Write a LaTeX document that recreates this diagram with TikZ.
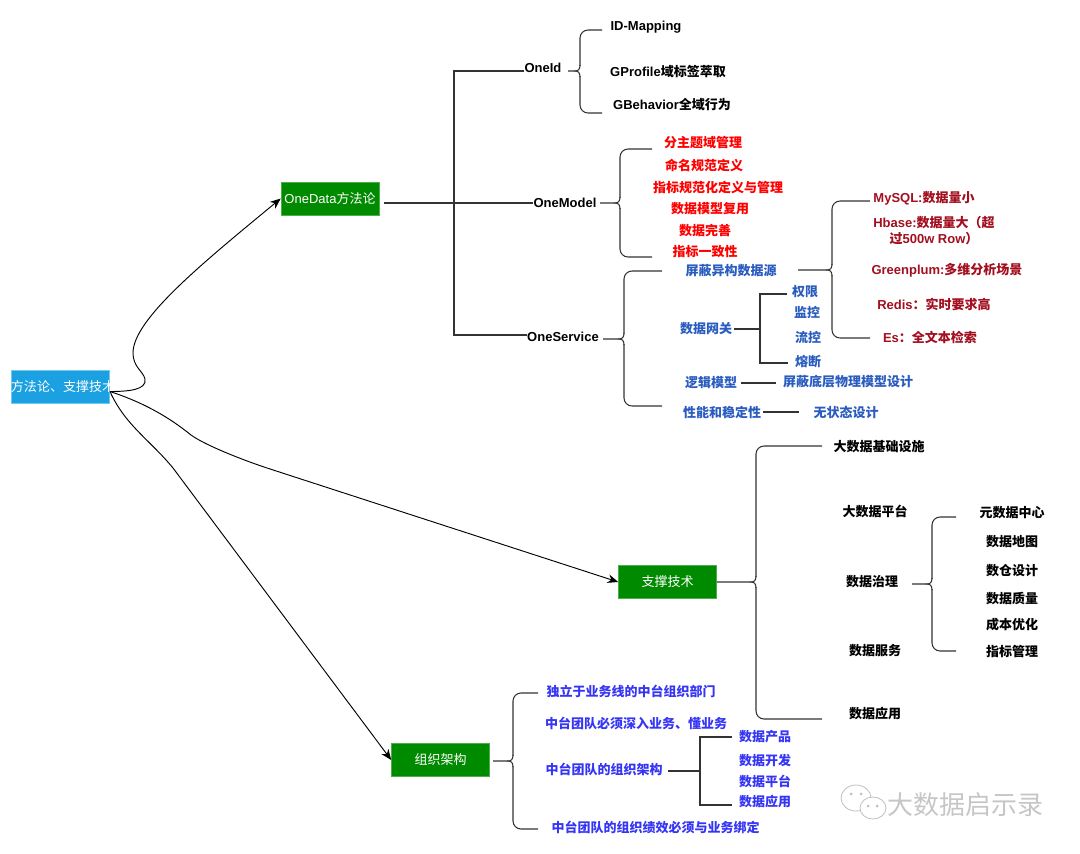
\documentclass[tikz,border=0pt]{standalone}
\usepackage{fontspec}
\setmainfont{Noto Sans CJK SC}
\newfontfamily\en{Liberation Sans}
\usetikzlibrary{arrows.meta, calc}
\definecolor{boxblue}{HTML}{1BA1E2}
\definecolor{boxgreen}{HTML}{008A00}
\definecolor{svcblue}{HTML}{2A5CBF}
\definecolor{darkred}{HTML}{A20F1F}
\definecolor{orgblue}{HTML}{3535F5}
\definecolor{linegray}{HTML}{333333}
% brace: tip, spine point (level with the tip), upper end, lower end
\newcommand{\bracelink}[4]{%
  \draw[link, rounded corners=6] (#3) -- (#3 -| #2) -- ($(#2)+(0,-5)$);
  \draw[link, rounded corners=6] (#4) -- (#4 -| #2) -- ($(#2)+(0,5)$);
  \draw[link] ($(#2)+(0,-6)$) .. controls ($(#2)+(0,-1)$) and ($(#2)+(-2,0)$) .. ($(#2)+(-6,0)$) -- (#1);
  \draw[link] ($(#2)+(0,6)$) .. controls ($(#2)+(0,1)$) and ($(#2)+(-2,0)$) .. ($(#2)+(-6,0)$);
}
\begin{document}
\begin{tikzpicture}[x=0.75pt, y=-0.75pt,
    font=\fontsize{9.75pt}{12pt}\selectfont,
    link/.style={draw=linegray, line width=0.8pt},
    curve/.style={draw=black, line width=0.7pt, -{Stealth[length=8pt, width=6.5pt]}},
    greenbox/.style={draw=boxgreen!70!white, fill=boxgreen, text=white, minimum width=73.5pt, minimum height=25pt, inner sep=0pt},
    lbl/.style={inner sep=0pt, font=\fontsize{9.75pt}{12pt}\selectfont\bfseries},
    redlbl/.style={lbl, text=red},
    svclbl/.style={lbl, text=svcblue},
    dblbl/.style={lbl, text=darkred},
    orglbl/.style={lbl, text=orgblue}]
  \useasboundingbox (0,0) rectangle (1080,853);

  % boxes
  \node[draw=boxblue!60!white, fill=boxblue, text=white, text width=73.5pt, minimum height=25pt, inner sep=0pt, align=center] (root) at (60,386.5) {方法论、支撑技术和组织架构};
  \node[greenbox] (onedata) at (330,198.5) {{\en OneData}方法论};
  \node[greenbox] (support) at (667.5,582) {支撑技术};
  \node[greenbox] (org) at (440.5,760) {组织架构};

  % first level
  \node[lbl] (oneid) at (543,68) {\en OneId};
  \node[lbl] (onemodel) at (565,203) {\en OneModel};
  \node[lbl] (oneservice) at (563,337) {\en OneService};

  % OneId
  \node[lbl] (idmap) at (646,27) {\en ID-Mapping};
  \node[lbl] (gprofile) at (668,72) {{\en GProfile}域标签萃取};
  \node[lbl] (gbehavior) at (672,104) {{\en GBehavior}全域行为};

  % OneModel
  \foreach \name/\x/\y/\txt in {m1/703/143/分主题域管理, m2/704/165/命名规范定义, m3/718/187.5/指标规范化定义与管理,
      m4/710/209/数据模型复用, m5/705/231/数据完善, m6/705/252/指标一致性}
    \node[redlbl] (\name) at (\x,\y) {\txt};

  % OneService
  \foreach \name/\x/\y/\txt in {mask/731/271/屏蔽异构数据源, gateway/706/329/数据网关, auth/805/292/权限, monitor/807/312/监控,
      flow/808/337/流控, fuse/808/362/熔断, logic/711/383/逻辑模型, physical/848/382/屏蔽底层物理模型设计,
      perf/722/412/性能和稳定性, stateless/846/412/无状态设计}
    \node[svclbl] (\name) at (\x,\y) {\txt};
  \node[dblbl] (mysql) at (924,198) {{\en MySQL:}数据量小};
  \node[dblbl, align=center, font=\fontsize{9.75pt}{12pt}\selectfont\bfseries] (hbase) at (934,231) {{\en Hbase:}数据量大（超\\过{\en 500w Row}）};
  \node[dblbl] (greenplum) at (947,270) {{\en Greenplum:}多维分析场景};
  \node[dblbl] (redis) at (934,304) {{\en Redis}：实时要求高};
  \node[dblbl] (es) at (930,337) {{\en Es}：全文本检索};

  % support
  \foreach \name/\x/\y/\txt in {infra/879/447/大数据基础设施, platform/875/511/大数据平台, govern/872/582/数据治理,
      service/875/651/数据服务, apps/875/714/数据应用, meta/1012/513/元数据中心, dmap/1012/542/数据地图,
      dwdesign/1012/571/数仓设计, quality/1012/599/数据质量, cost/1012/625/成本优化, metric/1012/651/指标管理}
    \node[lbl] (\name) at (\x,\y) {\txt};

  % org
  \foreach \name/\x/\y/\txt in {o1/631/691/独立于业务线的中台组织部门, o2/636/723/中台团队必须深入业务、懂业务,
      o3/604/769/中台团队的组织架构, o4/655.5/827/中台团队的组织绩效必须与业务绑定, t1/765/737/数据产品,
      t2/765/761/数据开发, t3/765/781/数据平台, t4/765/802/数据应用}
    \node[orglbl] (\name) at (\x,\y) {\txt};

  % root curves
  \coordinate (rootout) at (110,391.5);
  \draw[curve] (rootout) .. controls (128,391.5) and (147,390) .. (145,379) .. controls (143,371) and (133,367) .. (133,353)
    .. controls (133,320) and (200,265) .. (onedata.west);
  \draw[curve] (rootout) .. controls (145,403) and (170,418) .. (191,435) .. controls (205,445) and (240,459) .. (267,468) -- (support.west);
  \draw[curve] (rootout) .. controls (125,425) and (150,440) .. (173,468) -- (org.west);

  % trunk
  \coordinate (dataout) at (384,203);
  \coordinate (trunk) at (454,203);
  \draw[link] (dataout) -- (onemodel.west);
  \draw[link] (oneid.west |- 0,71) -- (trunk |- 0,71) -- (trunk |- 0,335) -- (oneservice.west |- 0,335);

  % braces
  \coordinate (t) at (568,71); \coordinate (s) at (580,71); \coordinate (a) at (602,30); \coordinate (b) at (602,113);
  \bracelink{t}{s}{a}{b}
  \coordinate (t) at (600,203); \coordinate (s) at (620,203); \coordinate (a) at (652,149); \coordinate (b) at (652,257);
  \bracelink{t}{s}{a}{b}
  \coordinate (t) at (603,339); \coordinate (s) at (624,339); \coordinate (a) at (662,271); \coordinate (b) at (662,406);
  \bracelink{t}{s}{a}{b}
  \coordinate (t) at (798,270); \coordinate (s) at (832,270); \coordinate (a) at (870,201); \coordinate (b) at (870,338);
  \bracelink{t}{s}{a}{b}
  \coordinate (s) at (756,582); \coordinate (a) at (822,446); \coordinate (b) at (822,719);
  \bracelink{support.east}{s}{a}{b}
  \coordinate (t) at (912,584); \coordinate (s) at (932,584); \coordinate (a) at (956,517); \coordinate (b) at (956,651);
  \bracelink{t}{s}{a}{b}
  \coordinate (t) at (493,761); \coordinate (s) at (513,761); \coordinate (a) at (538,693); \coordinate (b) at (538,829);
  \bracelink{t}{s}{a}{b}

  % elbows
  \coordinate (gwout) at (734,329); \coordinate (gwbar) at (760,329);
  \draw[link] (gwout) -- (gwbar);
  \draw[link] (auth.west |- 0,294) ++(-5,0) -- (gwbar |- 0,294) -- (gwbar |- 0,363) -- (788,363);
  \coordinate (orgout) at (668,771); \coordinate (orgbar) at (700,771);
  \draw[link] (orgout) -- (orgbar);
  \draw[link] (732,737) -- (orgbar |- 0,737) -- (orgbar |- 0,805) -- (732,805);
  \coordinate (logicout) at (741,383); \coordinate (physin) at (776,383);
  \draw[link] (logicout) -- (physin);
  \coordinate (perfout) at (763,412); \coordinate (statein) at (799,412);
  \draw[link] (perfout) -- (statein);

  % watermark
  \node[inner sep=0pt, text=gray!45, font=\fontsize{19.5pt}{22pt}\selectfont] (mark) at (965,805) {大数据启示录};
  \draw[gray!50, fill=white, line width=0.6pt] (856,798) ellipse (15 and 13);
  \draw[gray!50, fill=white, line width=0.6pt] (873,808) ellipse (13 and 11);
  \fill[gray!50] (851,794) circle (1.5) (861,794) circle (1.5) (868,806) circle (1.5) (877,806) circle (1.5);
\end{tikzpicture}
\end{document}
